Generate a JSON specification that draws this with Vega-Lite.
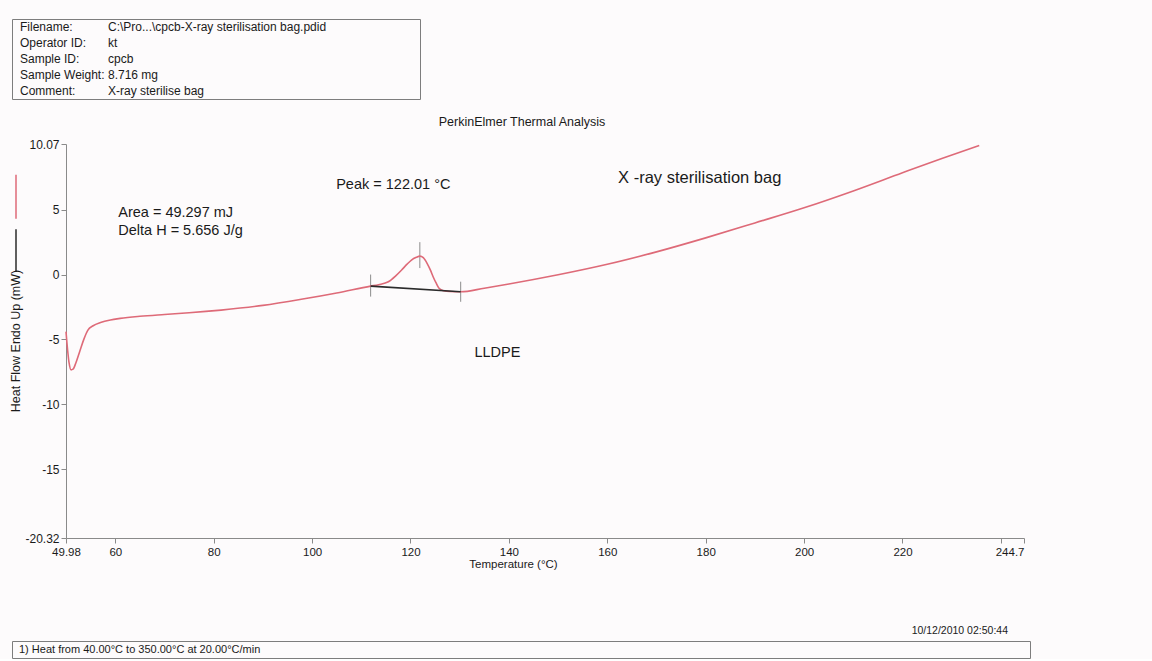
{
  "$schema": "https://vega.github.io/schema/vega-lite/v6.json",
  "background": "#fdfbfc",
  "padding": {"left": 10, "top": 18, "right": 124, "bottom": 0},
  "config": {
    "font": "Liberation Sans",
    "view": {"stroke": null},
    "axis": {"grid": false, "domainColor": "#8a8a8a", "tickColor": "#8a8a8a", "labelColor": "#1a1a1a", "titleColor": "#1a1a1a", "titleFontWeight": "normal", "labelFont": "Liberation Sans", "titleFont": "Liberation Sans"},
    "title": {"font": "Liberation Sans", "fontWeight": "normal", "color": "#1a1a1a"}
  },
  "datasets": {
    "header": [
      {"row": 1, "label": "Filename:", "value": "C:\\Pro...\\cpcb-X-ray sterilisation bag.pdid"},
      {"row": 2, "label": "Operator ID:", "value": "kt"},
      {"row": 3, "label": "Sample ID:", "value": "cpcb"},
      {"row": 4, "label": "Sample Weight:", "value": "8.716 mg"},
      {"row": 5, "label": "Comment:", "value": "X-ray sterilise bag"}
    ],
    "legendlines": [
      {"series": "Heat Flow", "top": 7.7, "bottom": 4.3},
      {"series": "Baseline", "top": 3.5, "bottom": 0.2}
    ],
    "dsc": [
      {"series": "Heat Flow", "T": 49.98, "v": -4.4},
      {"series": "Heat Flow", "T": 50.3, "v": -5.8},
      {"series": "Heat Flow", "T": 50.6, "v": -6.8},
      {"series": "Heat Flow", "T": 51.0, "v": -7.35},
      {"series": "Heat Flow", "T": 51.4, "v": -7.3},
      {"series": "Heat Flow", "T": 52.0, "v": -6.8},
      {"series": "Heat Flow", "T": 52.8, "v": -5.9},
      {"series": "Heat Flow", "T": 53.6, "v": -5.0},
      {"series": "Heat Flow", "T": 54.4, "v": -4.3},
      {"series": "Heat Flow", "T": 55.5, "v": -3.95},
      {"series": "Heat Flow", "T": 57, "v": -3.7},
      {"series": "Heat Flow", "T": 59, "v": -3.5},
      {"series": "Heat Flow", "T": 61, "v": -3.38},
      {"series": "Heat Flow", "T": 65, "v": -3.22},
      {"series": "Heat Flow", "T": 70, "v": -3.08},
      {"series": "Heat Flow", "T": 75, "v": -2.95},
      {"series": "Heat Flow", "T": 81.5, "v": -2.74},
      {"series": "Heat Flow", "T": 90, "v": -2.38},
      {"series": "Heat Flow", "T": 97.8, "v": -1.91},
      {"series": "Heat Flow", "T": 105, "v": -1.42},
      {"series": "Heat Flow", "T": 111.9, "v": -0.89},
      {"series": "Heat Flow", "T": 113.5, "v": -0.78},
      {"series": "Heat Flow", "T": 115.5, "v": -0.56},
      {"series": "Heat Flow", "T": 117, "v": -0.1},
      {"series": "Heat Flow", "T": 118.2, "v": 0.35},
      {"series": "Heat Flow", "T": 119.3, "v": 0.8},
      {"series": "Heat Flow", "T": 120.2, "v": 1.12},
      {"series": "Heat Flow", "T": 121.2, "v": 1.33},
      {"series": "Heat Flow", "T": 121.9, "v": 1.42},
      {"series": "Heat Flow", "T": 122.6, "v": 1.3},
      {"series": "Heat Flow", "T": 123.4, "v": 0.85},
      {"series": "Heat Flow", "T": 124.1, "v": 0.3},
      {"series": "Heat Flow", "T": 124.6, "v": -0.17},
      {"series": "Heat Flow", "T": 125.2, "v": -0.65},
      {"series": "Heat Flow", "T": 125.8, "v": -1.06},
      {"series": "Heat Flow", "T": 126.7, "v": -1.25},
      {"series": "Heat Flow", "T": 128, "v": -1.31},
      {"series": "Heat Flow", "T": 130.2, "v": -1.33},
      {"series": "Heat Flow", "T": 135, "v": -1.05},
      {"series": "Heat Flow", "T": 140, "v": -0.73},
      {"series": "Heat Flow", "T": 150, "v": -0.02},
      {"series": "Heat Flow", "T": 160, "v": 0.79},
      {"series": "Heat Flow", "T": 170, "v": 1.75},
      {"series": "Heat Flow", "T": 180, "v": 2.83},
      {"series": "Heat Flow", "T": 190, "v": 3.98},
      {"series": "Heat Flow", "T": 200, "v": 5.15},
      {"series": "Heat Flow", "T": 210, "v": 6.45},
      {"series": "Heat Flow", "T": 220, "v": 7.85},
      {"series": "Heat Flow", "T": 228, "v": 8.95},
      {"series": "Heat Flow", "T": 235.6, "v": 9.95},
      {"series": "Baseline", "T": 111.9, "v": -0.89},
      {"series": "Baseline", "T": 130.2, "v": -1.33}
    ],
    "marks": [
      {"T": 111.9, "v": 0.0, "v2": -1.7},
      {"T": 121.9, "v": 2.5, "v2": 0.5},
      {"T": 130.2, "v": -0.55, "v2": -2.1}
    ],
    "notes": [
      {"T": 104.9, "v": 6.92, "label": "Peak = 122.01 °C"},
      {"T": 60.6, "v": 4.72, "label": "Area = 49.297 mJ"},
      {"T": 60.6, "v": 3.35, "label": "Delta H = 5.656 J/g"},
      {"T": 133.0, "v": -6.06, "label": "LLDPE"}
    ],
    "sample": [
      {"T": 162.2, "v": 7.48, "label": "X -ray sterilisation bag"}
    ],
    "footer": [
      {"slot": "a", "label": "1)  Heat from 40.00°C to 350.00°C at 20.00°C/min"}
    ]
  },
  "columns": 1,
  "align": "none",
  "spacing": 15,
  "concat": [
    {
      "width": 408,
      "height": 80,
      "view": {"stroke": "#7d7d7d", "strokeWidth": 1},
      "data": {"name": "header"},
      "transform": [{"fold": ["label", "value"], "as": ["col", "txt"]}],
      "mark": {"type": "text", "align": "left", "baseline": "middle", "fontSize": 12, "color": "#1a1a1a"},
      "encoding": {
        "x": {"field": "col", "type": "nominal", "axis": null, "scale": {"type": "point", "domain": ["label", "value"], "range": [8, 96], "padding": 0}},
        "y": {"field": "row", "type": "ordinal", "axis": null, "scale": {"type": "point", "padding": 0.5}},
        "text": {"field": "txt", "type": "nominal"}
      }
    },
    {
      "columns": 1,
      "align": "none",
      "spacing": 55,
      "concat": [
        {
          "spacing": 1,
          "hconcat": [
            {
              "width": 8,
              "height": 394,
              "layer": [
                {
                  "data": {"name": "legendlines"},
                  "mark": {"type": "rule", "strokeWidth": 1.5},
                  "encoding": {
                    "y": {"field": "top", "type": "quantitative", "scale": {"domain": [-20.32, 10.07], "nice": false, "zero": false}, "axis": null},
                    "y2": {"field": "bottom"},
                    "color": {"field": "series", "type": "nominal", "scale": {"domain": ["Heat Flow", "Baseline"], "range": ["#de6a78", "#2b2b2b"]}, "legend": null}
                  }
                },
                {
                  "data": {"values": [{"t": "Heat Flow Endo Up (mW)"}]},
                  "mark": {"type": "text", "angle": 270, "fontSize": 12.5, "align": "center", "baseline": "middle", "color": "#1a1a1a"},
                  "encoding": {"text": {"field": "t", "type": "nominal"}}
                }
              ]
            },
            {
              "width": 958,
              "height": 394,
              "title": {"text": "PerkinElmer Thermal Analysis", "fontSize": 12.5, "dx": -23, "offset": 10, "anchor": "middle"},
              "encoding": {
                "x": {
                  "field": "T", "type": "quantitative",
                  "scale": {"domain": [49.98, 244.7], "nice": false, "zero": false},
                  "axis": {
                    "title": "Temperature (°C)",
                    "values": [49.98, 60, 80, 100, 120, 140, 160, 180, 200, 220, 240, 244.7],
                    "labelExpr": "datum.value == 240 ? '' : toString(datum.value)",
                    "labelFontSize": 11.5, "tickSize": 5, "labelPadding": 3, "labelFlush": false, "labelOverlap": false,
                    "labelAlign": {"condition": {"test": "datum.value > 244", "value": "right"}, "value": "center"},
                    "titleFontSize": 11.5, "titlePadding": 1, "titleX": 447
                  }
                },
                "y": {
                  "field": "v", "type": "quantitative",
                  "scale": {"domain": [-20.32, 10.07], "nice": false, "zero": false},
                  "axis": {
                    "title": null,
                    "values": [10.07, 5, 0, -5, -10, -15, -20.32],
                    "labelExpr": "toString(datum.value)",
                    "labelFontSize": 12, "tickSize": 5, "labelPadding": 2, "labelFlush": false, "labelOverlap": false
                  }
                }
              },
              "layer": [
                {
                  "data": {"name": "marks"},
                  "mark": {"type": "rule", "color": "#8c8c8c", "strokeWidth": 1},
                  "encoding": {"y2": {"field": "v2"}}
                },
                {
                  "data": {"name": "dsc"},
                  "mark": {"type": "line", "strokeWidth": 1.6, "interpolate": "monotone"},
                  "encoding": {
                    "color": {"field": "series", "type": "nominal", "scale": {"domain": ["Heat Flow", "Baseline"], "range": ["#de6a78", "#2b2b2b"]}, "legend": null}
                  }
                },
                {
                  "data": {"name": "notes"},
                  "mark": {"type": "text", "align": "left", "baseline": "middle", "fontSize": 14.5, "color": "#1a1a1a"},
                  "encoding": {"text": {"field": "label", "type": "nominal"}}
                },
                {
                  "data": {"name": "sample"},
                  "mark": {"type": "text", "align": "left", "baseline": "middle", "fontSize": 16.5, "color": "#1a1a1a"},
                  "encoding": {"text": {"field": "label", "type": "nominal"}}
                }
              ]
            }
          ]
        },
        {
          "width": 1018,
          "height": 17,
          "view": {"stroke": "#7d7d7d", "strokeWidth": 1},
          "title": {"text": "10/12/2010 02:50:44", "anchor": "end", "fontSize": 10.5, "dx": -22, "offset": 5},
          "data": {"name": "footer"},
          "mark": {"type": "text", "align": "left", "baseline": "middle", "fontSize": 11, "dx": 7, "color": "#1a1a1a"},
          "encoding": {
            "x": {"field": "slot", "type": "nominal", "axis": null, "scale": {"type": "point", "padding": 0, "align": 0}},
            "text": {"field": "label", "type": "nominal"}
          }
        }
      ]
    }
  ]
}
